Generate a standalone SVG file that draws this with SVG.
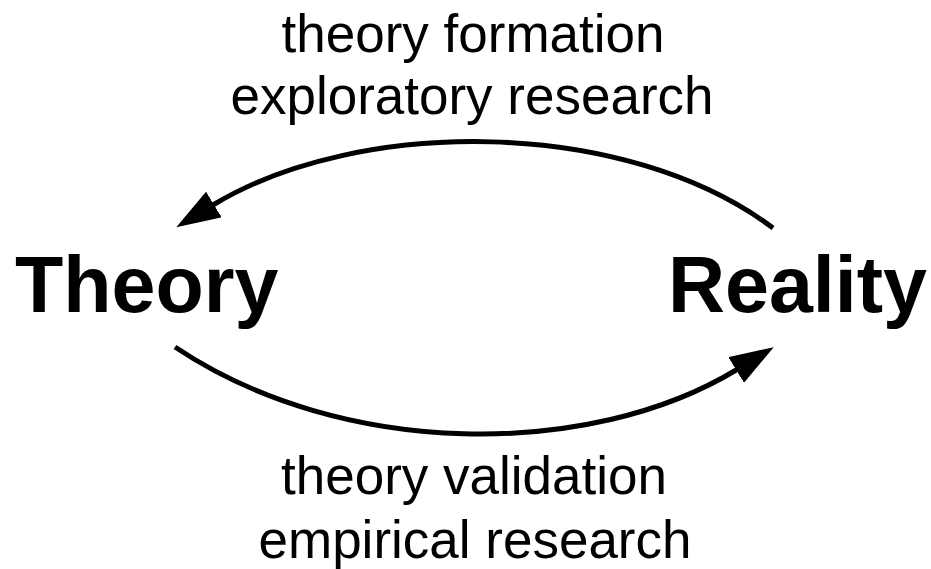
<svg xmlns="http://www.w3.org/2000/svg" width="931" height="569" viewBox="0 0 931 569">
<style>
.node{font-family:"Liberation Sans",Arial,sans-serif;font-weight:bold;font-size:79px;fill:#000}
.lbl{font-family:"Liberation Sans",Arial,sans-serif;font-size:53px;fill:#000;text-anchor:middle}
.conn{fill:none;stroke:#000;stroke-width:5}
</style>
<defs>
<marker id="ah" markerUnits="userSpaceOnUse" viewBox="0 0 44 30" markerWidth="44" markerHeight="30" refX="1" refY="15" orient="auto">
<path d="M0,0 L44,15 L0,30 z" fill="#000"/>
</marker>
</defs>
<rect width="931" height="569" fill="#fff"/>
<g id="connectors">
<path class="conn" d="M773,228 C625,117 358,117 213,205" marker-end="url(#ah)"/>
<path class="conn" d="M175,347 C342,459 590,459 737,369.5" marker-end="url(#ah)"/>
</g>
<g id="theory"><text class="node" x="15" y="312">Theory</text></g>
<g id="reality"><text class="node" x="927" y="312" text-anchor="end">Reality</text></g>
<g id="label-top">
<text class="lbl" x="473" y="52">theory formation</text>
<text class="lbl" x="472" y="114">exploratory research</text>
</g>
<g id="label-bottom">
<text class="lbl" x="474" y="494">theory validation</text>
<text class="lbl" x="475" y="558">empirical research</text>
</g>
</svg>
